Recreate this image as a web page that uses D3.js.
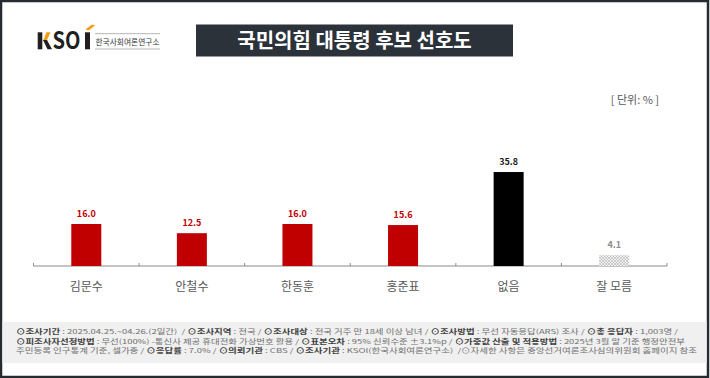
<!DOCTYPE html>
<html>
<head>
<meta charset="utf-8">
<script src="https://d3js.org/d3.v7.min.js"></script>
<style>
  body { margin: 0; background: #fff; }
  svg { display: block; }
  text { font-family: "Noto Sans CJK KR", "Noto Sans", sans-serif; }
</style>
</head>
<body>
<div id="chart"></div>
<script>
// data
const candidates = ["김문수", "안철수", "한동훈", "홍준표", "없음", "잘 모름"];
const values = [16.0, 12.5, 16.0, 15.6, 35.8, 4.1];
const barKind = ["party", "party", "party", "party", "none", "unknown"];

const footerLines = [
  [["⊙조사기간", true], [" : 2025.04.25.~04.26.(2일간)  / ", false], ["⊙조사지역", true], [" : 전국 / ", false], ["⊙조사대상", true], [" : 전국 거주 만 18세 이상 남녀 / ", false], ["⊙조사방법", true], [" : 무선 자동응답(ARS) 조사 / ", false], ["⊙총 응답자", true], [" : 1,003명 /", false]],
  [["⊙피조사자선정방법", true], [" : 무선(100%) -통신사 제공 휴대전화 가상번호 활용 / ", false], ["⊙표본오차", true], [" : 95% 신뢰수준 ±3.1%p / ", false], ["⊙가중값 산출 및 적용방법", true], [" : 2025년 3월 말 기준 행정안전부", false]],
  [["주민등록 인구통계 기준, 셀가중 / ", false], ["⊙응답률", true], [" : 7.0% / ", false], ["⊙의뢰기관", true], [" : CBS / ", false], ["⊙조사기관", true], [" : KSOI(한국사회여론연구소)  /⊙자세한 사항은 중앙선거여론조사심의위원회 홈페이지 참조", false]]
];
const footerWidths = [662, 669, 681];

const W = 710, H = 378;
const svg = d3.select("#chart").append("svg")
  .attr("width", W).attr("height", H);

// hatch pattern for 잘 모름
const defs = svg.append("defs");
const pat = defs.append("pattern").attr("id", "hatch")
  .attr("patternUnits", "userSpaceOnUse").attr("width", 3).attr("height", 3);
pat.append("rect").attr("width", 3).attr("height", 3).attr("fill", "#f2f2f2");
pat.append("path").attr("d", "M0,3 L3,0 M0,0 L3,3").attr("stroke", "#a6a6a6").attr("stroke-width", 0.5);

// frame
svg.append("rect").attr("x", 1).attr("y", 1).attr("width", W - 3).attr("height", H - 2)
  .attr("fill", "#fff").attr("stroke", "#262b31").attr("stroke-width", 2.5);

// logo
const logo = svg.append("g");
logo.append("rect").attr("x", 37.7).attr("y", 32.3).attr("width", 4.6).attr("height", 17).attr("fill", "#231f20");
logo.append("path").attr("d", "M43,41 L46.5,32.3 L50.5,32.3 L46.5,41 Z").attr("fill", "#f39c12");
logo.append("path").attr("d", "M43,40 L47,40 L52,49.3 L47.5,49.3 Z").attr("fill", "#231f20");
logo.append("text").attr("x", 52.5).attr("y", 49.3).text("SO")
  .attr("font-family", "Liberation Sans, Arial, sans-serif").attr("font-weight", "bold")
  .attr("font-size", 23.5).attr("fill", "#231f20")
  .attr("textLength", 28).attr("lengthAdjust", "spacingAndGlyphs");
logo.append("rect").attr("x", 85).attr("y", 32.3).attr("width", 5).attr("height", 17).attr("fill", "#231f20");
logo.append("path").attr("d", "M85.5,29.5 L92,24.5 L95,25.5 L88.5,30.5 Z").attr("fill", "#f39c12");
logo.append("line").attr("x1", 95).attr("x2", 160).attr("y1", 33.7).attr("y2", 33.7).attr("stroke", "#b5b5b5").attr("stroke-width", 1);
logo.append("line").attr("x1", 95).attr("x2", 160).attr("y1", 49).attr("y2", 49).attr("stroke", "#b5b5b5").attr("stroke-width", 1);
logo.append("text").attr("x", 95.5).attr("y", 44.5).text("한국사회여론연구소")
  .attr("font-size", 8).attr("fill", "#333")
  .attr("textLength", 64).attr("lengthAdjust", "spacingAndGlyphs");

// title
svg.append("rect").attr("x", 196).attr("y", 24.5).attr("width", 317).attr("height", 32).attr("fill", "#2b323a");
svg.append("text").attr("x", 354.5).attr("y", 47.5).attr("text-anchor", "middle")
  .attr("font-size", 20).attr("font-weight", "bold").attr("fill", "#fff")
  .text("국민의힘 대통령 후보 선호도");

// unit
svg.append("text").attr("x", 659).attr("y", 104).attr("text-anchor", "end")
  .attr("font-size", 11).attr("fill", "#595959").text("[ 단위: % ]");

// scales
const x = d3.scaleBand().domain(candidates).range([33.5, 667]);
const y = d3.scaleLinear().domain([0, 40]).range([266, 161]);
const barW = 30;

// axis
const axis = svg.append("g").attr("transform", "translate(0,266)");
axis.append("line").attr("x1", x.range()[0]).attr("x2", x.range()[1])
  .attr("stroke", "#8c8c8c").attr("stroke-width", 1.2);
const tickPos = candidates.map(c => x(c)).concat([x.range()[1]]);
axis.selectAll(".tk").data(tickPos).join("line").attr("class", "tk")
  .attr("x1", d => d).attr("x2", d => d).attr("y1", -3).attr("y2", 0)
  .attr("stroke", "#8c8c8c").attr("stroke-width", 1);

// bars
const fillOf = k => k === "party" ? "#c00000" : k === "none" ? "#000" : "url(#hatch)";
const labelColor = k => k === "party" ? "#c00000" : k === "none" ? "#1a1a1a" : "#8c8c8c";
const rows = candidates.map((c, i) => ({ c, v: values[i], k: barKind[i] }));

svg.selectAll(".bar").data(rows).join("rect").attr("class", "bar")
  .attr("x", d => x(d.c) + x.bandwidth() / 2 - barW / 2)
  .attr("y", d => y(d.v))
  .attr("width", barW)
  .attr("height", d => y(0) - y(d.v))
  .attr("fill", d => fillOf(d.k));

svg.selectAll(".val").data(rows).join("text").attr("class", "val")
  .attr("x", d => x(d.c) + x.bandwidth() / 2)
  .attr("y", d => y(d.v) - 7)
  .attr("text-anchor", "middle")
  .attr("font-family", "Liberation Sans, Arial, sans-serif")
  .attr("font-weight", "bold").attr("font-size", 9)
  .attr("fill", d => labelColor(d.k))
  .text(d => d.v.toFixed(1));

svg.selectAll(".cat").data(rows).join("text").attr("class", "cat")
  .attr("x", d => x(d.c) + x.bandwidth() / 2)
  .attr("y", 290.5)
  .attr("text-anchor", "middle")
  .attr("font-size", 12).attr("fill", "#595959")
  .text(d => d.c);

// footer
svg.append("rect").attr("x", 2.5).attr("y", 322).attr("width", 704).attr("height", 41).attr("fill", "#f0f0f0");
const footY = [334, 343.5, 353];
footerLines.forEach((line, i) => {
  const t = svg.append("text").attr("x", 16).attr("y", footY[i])
    .attr("font-size", 6.5).attr("fill", "#6f6f6f")
    .attr("textLength", footerWidths[i]).attr("lengthAdjust", "spacingAndGlyphs")
    .attr("xml:space", "preserve");
  line.forEach(([s, b]) => {
    t.append("tspan").text(s)
      .attr("font-weight", b ? "bold" : "normal")
      .attr("fill", b ? "#404040" : "#6f6f6f");
  });
});
</script>
</body>
</html>
